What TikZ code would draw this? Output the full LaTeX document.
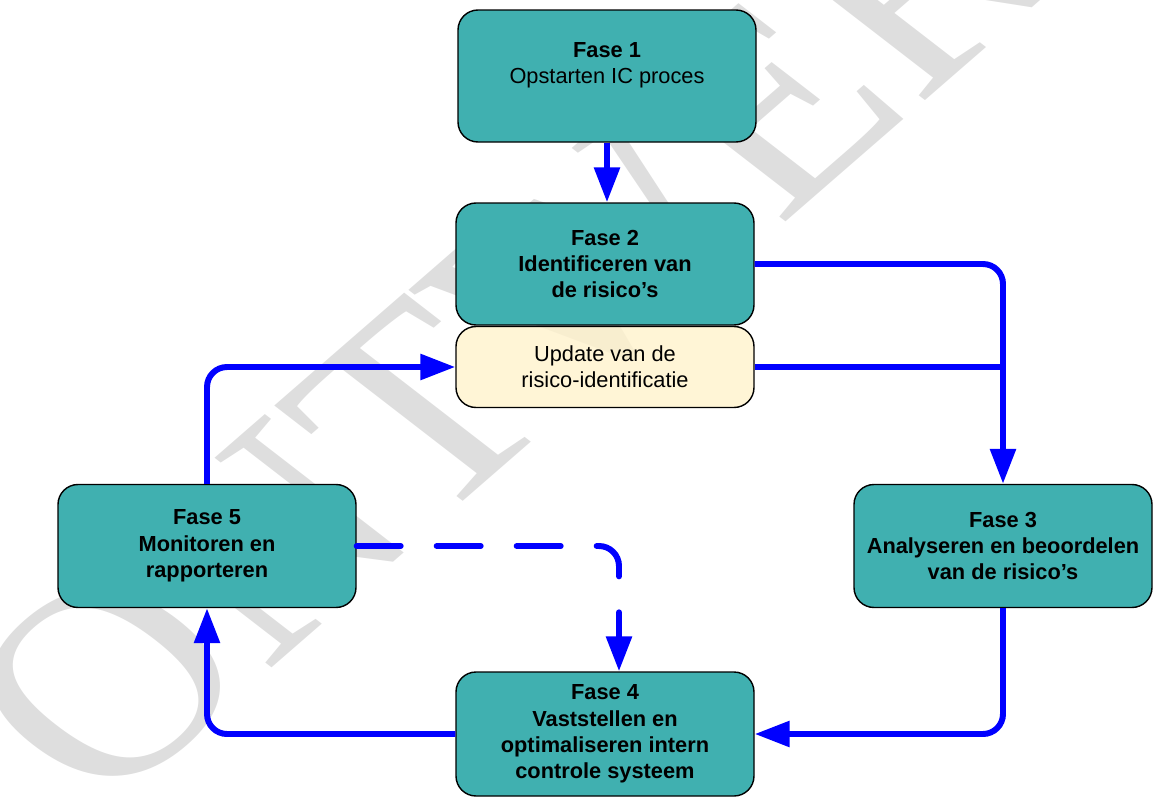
\documentclass[tikz,border=0pt]{standalone}
\usepackage{fontspec}
\setmainfont{Liberation Sans}
\newfontfamily\wmfont{Liberation Serif}
\usetikzlibrary{arrows.meta}
\definecolor{PhaseClr}{rgb}{0.25,0.69,0.69}
\definecolor{UpdateClr}{rgb}{1,0.95,0.8}
\definecolor{FlowClr}{rgb}{0,0,1}
\definecolor{MarkClr}{rgb}{0.87,0.87,0.87}

\tikzset{
  phase/.style={draw=black,line width=0.8pt,fill=PhaseClr,rounded corners=0.4cm,
    minimum width=5.96cm,inner sep=0pt,align=center,
    font=\fontsize{12.4}{15}\selectfont},
  update/.style={phase,fill=UpdateClr,fill opacity=0.8,text opacity=1},
  link/.style={draw=FlowClr,line width=3.4pt,rounded corners=0.4cm},
  flow/.style={link,-{Triangle[length=0.7cm,width=0.5cm]}},
  maybe/.style={flow,line cap=round,dash pattern=on 0.88cm off 0.72cm}
}

\begin{document}
\begin{tikzpicture}
\useasboundingbox (0,0) rectangle (23.08,-15.96);

% watermark
\node[rotate=41,xslant=-0.2,text=MarkClr,font=\wmfont\fontsize{170}{170}\selectfont] (WM) at (11.4,-5.62) {ONTWERP};

\node[phase,minimum height=2.64cm] (F1) at (12.14,-1.52) {\textbf{Fase 1}\\Opstarten IC proces\\~};
\node[phase,minimum height=2.44cm] (F2) at (12.1,-5.28) {\textbf{Fase 2}\\\textbf{Identificeren van}\\\textbf{de risico’s}};
\node[update,minimum height=1.62cm] (UP) at (12.1,-7.34) {Update van de\\risico-identificatie};
\node[phase,minimum height=2.46cm] (F3) at (20.06,-10.92) {\textbf{Fase 3}\\\textbf{Analyseren en beoordelen}\\\textbf{van de risico’s}};
\node[phase,minimum height=2.48cm] (F4) at (12.1,-14.68) {\textbf{Fase 4}\\\textbf{Vaststellen en}\\\textbf{optimaliseren intern}\\\textbf{controle systeem}};
\node[phase,minimum height=2.46cm] (F5) at (4.14,-10.92) {\textbf{Fase 5}\\\textbf{Monitoren en}\\\textbf{rapporteren}};

\coordinate (D4) at ([xshift=0.28cm]F4.north);

\draw[flow] (F1.south) -- (F1.south |- F2.north);
\draw[flow] (F2.east) -| (F3.north);
\draw[link] (UP.east) -- (UP.east -| F3.north);
\draw[flow] (F3.south) |- (F4.east);
\draw[flow] (F4.west) -| (F5.south);
\draw[flow] (F5.north) |- (UP.west);
\draw[maybe] (F5.east) -| (D4);

\end{tikzpicture}
\end{document}
